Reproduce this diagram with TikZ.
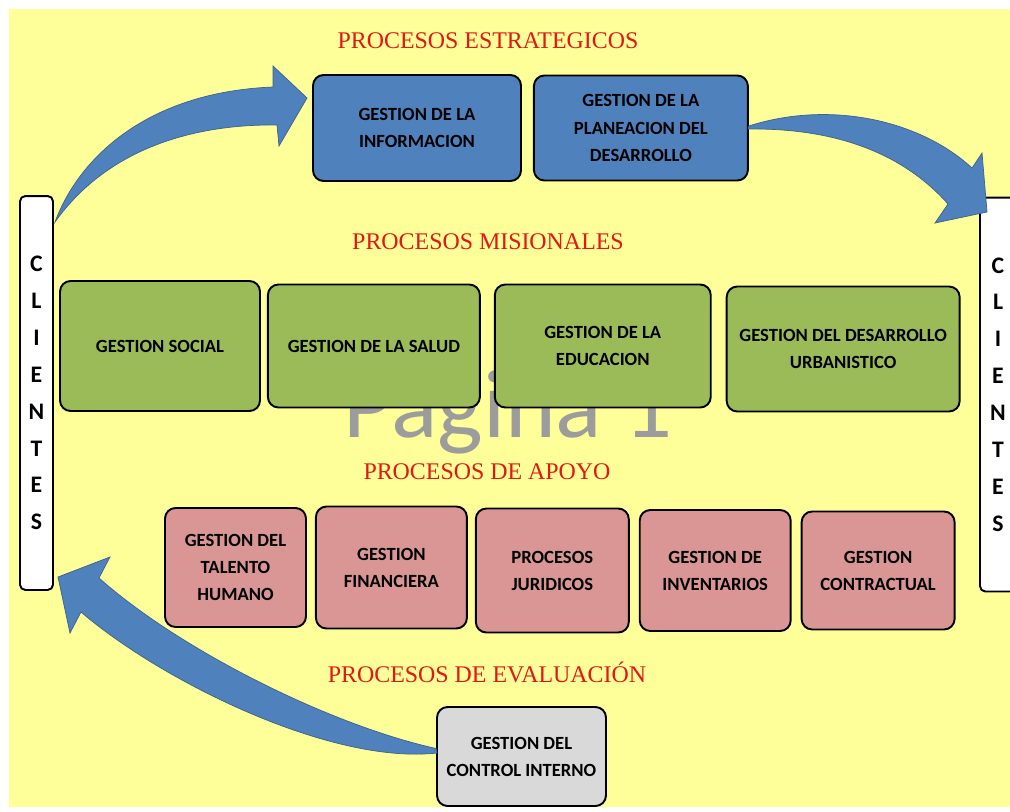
\documentclass[tikz,border=0pt]{standalone}
\usepackage{fontspec}
\setmainfont{Liberation Serif}
\newfontfamily\boxfont{Carlito}
\usetikzlibrary{positioning}
\definecolor{bgyellow}{RGB}{255,255,153}
\definecolor{estblue}{RGB}{79,129,189}
\definecolor{misgreen}{RGB}{155,187,89}
\definecolor{apopink}{RGB}{217,150,148}
\definecolor{evalgray}{RGB}{217,217,217}
\definecolor{titlered}{RGB}{228,22,22}
\definecolor{arrowblue}{RGB}{79,129,189}

\begin{document}
\begin{tikzpicture}[x=0.02cm,y=-0.02cm]
\tikzstyle{proc}=[draw=black,line width=1.1pt,rounded corners=6pt,align=center,font=\boxfont\bfseries\fontsize{10.6}{15.4}\selectfont]
\tikzstyle{est}=[proc,fill=estblue]
\tikzstyle{mis}=[proc,fill=misgreen]
\tikzstyle{apo}=[proc,fill=apopink]
\tikzstyle{eval}=[proc,fill=evalgray]
\tikzstyle{title}=[text=titlered,font=\fontsize{13.6}{16}\selectfont,inner sep=1pt]
\tikzstyle{clientes}=[draw=black,line width=1.1pt,rounded corners=3pt,fill=white,minimum height=7.88cm,align=center,font=\boxfont\bfseries\fontsize{13.5}{21}\selectfont]
\tikzstyle{blockarrow}=[fill=arrowblue,draw=arrowblue!75!black,line width=0.4pt]

\useasboundingbox (0,0) rectangle (1010,811);
\fill[bgyellow] (9,9) rectangle (1010,807);
\node[font=\boxfont\fontsize{55}{60}\selectfont,text=gray!78,anchor=base west,inner sep=0pt] (marca) at (343,437) {Página 1};

\node[title] (tEst) at (488,41) {PROCESOS ESTRATEGICOS};
\node[est,minimum width=4.16cm,minimum height=2.12cm] (info) at (417,128) {GESTION DE LA\\INFORMACION};
\node[est,minimum width=4.28cm,minimum height=2.1cm,right=0.22cm of info] (plan) {GESTION DE LA\\PLANEACION DEL\\DESARROLLO};

\node[title] (tMis) at (488,242) {PROCESOS MISIONALES};
\node[mis,minimum width=4cm,minimum height=2.6cm] (social) at (160,346) {GESTION SOCIAL};
\node[mis,minimum width=4.24cm,minimum height=2.46cm,right=0.12cm of social] (salud) {GESTION DE LA SALUD};
\node[mis,minimum width=4.32cm,minimum height=2.46cm,right=0.26cm of salud] (educ) {GESTION DE LA\\EDUCACION};
\node[mis,minimum width=4.66cm,minimum height=2.5cm,right=0.28cm of educ,yshift=-0.06cm] (urban) {GESTION DEL DESARROLLO\\URBANISTICO};

\node[title] (tApo) at (487,472) {PROCESOS DE APOYO};
\node[apo,minimum width=2.82cm,minimum height=2.38cm] (talento) at (235.5,567.5) {GESTION DEL\\TALENTO\\HUMANO};
\node[apo,minimum width=3.02cm,minimum height=2.44cm,right=0.16cm of talento] (finan) {GESTION\\FINANCIERA};
\node[apo,minimum width=3.06cm,minimum height=2.48cm,right=0.14cm of finan,yshift=-0.06cm] (jurid) {PROCESOS\\JURIDICOS};
\node[apo,minimum width=3.02cm,minimum height=2.42cm,right=0.18cm of jurid] (invent) {GESTION DE\\INVENTARIOS};
\node[apo,minimum width=3.06cm,minimum height=2.36cm,right=0.18cm of invent] (contrac) {GESTION\\CONTRACTUAL};

\node[title] (tEval) at (487,672) {PROCESOS DE EVALUACIÓN};
\node[eval,minimum width=3.38cm,minimum height=1.98cm] (control) at (521.5,756.5) {GESTION DEL\\CONTROL INTERNO};

\node[clientes,minimum width=0.66cm] (cliL) at (36.5,393) {C\\L\\I\\E\\N\\T\\E\\S};
\node[clientes,minimum width=0.72cm] (cliR) at (998,394.5) {C\\L\\I\\E\\N\\T\\E\\S};

\fill[blockarrow] (55,222) .. controls (80,155) and (150,92) .. (273,87) -- (273,66) -- (307,98) -- (279,146) -- (277,125) .. controls (200,124) and (110,145) .. (55,222) -- cycle;
\fill[blockarrow] (plan.east) ++(0,-2) .. controls (830,100) and (920,120) .. (972,168) -- (982,153) -- (987,212) -- (935,223) -- (948,204) .. controls (900,150) and (830,128) .. (748,129) -- cycle;
\fill[blockarrow] (control.west) ++(0,-8) .. controls (330,725) and (180,650) .. (99,578) -- (110,557) -- (58,577) -- (70,633) -- (81,612) .. controls (160,680) and (330,765) .. (437,753) -- cycle;
\end{tikzpicture}
\end{document}
